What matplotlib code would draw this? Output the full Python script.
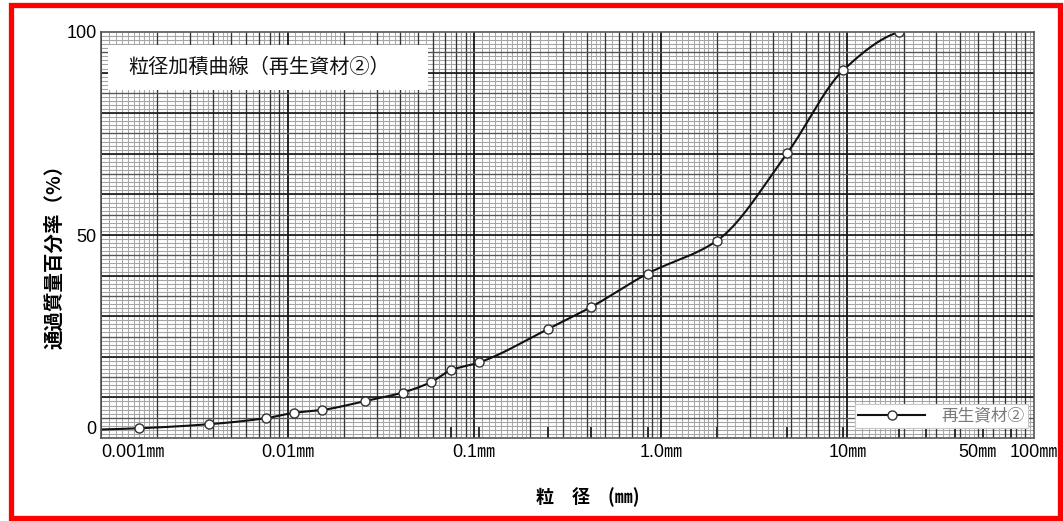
import numpy as np
import matplotlib.pyplot as plt
from matplotlib import font_manager
from matplotlib.patches import Rectangle

# 粒径 (mm) と通過質量百分率 (%)
grain_mm = [0.0016, 0.0038, 0.0077, 0.0108, 0.0153, 0.026, 0.0414, 0.0589,
            0.075, 0.106, 0.25, 0.425, 0.85, 2.0, 4.75, 9.5, 19.0]
passing = [2.4, 3.4, 4.9, 6.2, 6.9, 9.1, 11.2, 13.8,
           16.7, 18.6, 26.9, 32.3, 40.5, 48.6, 70.1, 90.6, 100.0]
# 曲線の左端 (0.001mm) の値
start_mm, start_pct = 0.001, 2.1

# ふるい目の位置 (下端の短い目盛)
sieve_mm = [0.075, 0.106, 0.25, 0.425, 0.85, 2.0, 4.75, 9.5,
            19.0, 26.5, 37.5, 53.0, 75.0]
x_ticks = [0.001, 0.01, 0.1, 1.0, 10, 50, 100]
x_labels = ['0.001㎜', '0.01㎜', '0.1㎜', '1.0㎜', '10㎜', '50㎜', '100㎜']
y_ticks = [0, 50, 100]
series_name = '再生資材②'
title = '粒径加積曲線（再生資材②）'

JP = 'Noto Sans CJK JP'
names = {f.name for f in font_manager.fontManager.ttflist}
narrow = 'Liberation Sans Narrow' if 'Liberation Sans Narrow' in names else 'Liberation Sans'
plt.rcParams['font.family'] = [JP, 'DejaVu Sans']


def pchip(xk, yk, xs):
    """単調な3次エルミート補間で滑らかな曲線を作る"""
    xk = np.asarray(xk, float)
    yk = np.asarray(yk, float)
    h = np.diff(xk)
    d = np.diff(yk) / h
    m = np.zeros_like(yk)
    for i in range(1, len(xk) - 1):
        if d[i - 1] * d[i] > 0:
            w1 = 2 * h[i] + h[i - 1]
            w2 = h[i] + 2 * h[i - 1]
            m[i] = (w1 + w2) / (w1 / d[i - 1] + w2 / d[i])

    def end_slope(h0, h1, d0, d1):
        s = ((2 * h0 + h1) * d0 - h0 * d1) / (h0 + h1)
        if np.sign(s) != np.sign(d0):
            s = 0.0
        elif np.sign(d0) != np.sign(d1) and abs(s) > abs(3 * d0):
            s = 3 * d0
        return s

    m[0] = end_slope(h[0], h[1], d[0], d[1])
    m[-1] = end_slope(h[-1], h[-2], d[-1], d[-2])

    idx = np.clip(np.searchsorted(xk, xs) - 1, 0, len(h) - 1)
    t = (xs - xk[idx]) / h[idx]
    h00 = 2 * t**3 - 3 * t**2 + 1
    h10 = t**3 - 2 * t**2 + t
    h01 = -2 * t**3 + 3 * t**2
    h11 = t**3 - t**2
    return (h00 * yk[idx] + h10 * h[idx] * m[idx]
            + h01 * yk[idx + 1] + h11 * h[idx] * m[idx + 1])


def draw_paper(ax):
    # 片対数方眼紙の罫線
    fine = np.concatenate([np.arange(1.1, 2.0, 0.1),
                           np.arange(2.25, 5.0, 0.25),
                           np.arange(5.5, 10.0, 0.5)])
    for n in range(-3, 2):
        base = 10.0 ** n
        ax.vlines(base * fine, 0, 100, colors='#aaaaaa', lw=0.75, zorder=1)
        ax.vlines(base * np.arange(2, 10), 0, 100, colors='#353535', lw=0.95, zorder=2)
        ax.vlines(base, 0, 100, colors='#151515', lw=1.3, zorder=2)
    ax.hlines(np.arange(1, 100), 0.001, 100, colors='#a5a5a5', lw=0.8, zorder=1)
    ax.hlines(np.arange(5, 100, 10), 0.001, 100, colors='#555555', lw=0.95, zorder=2)
    ax.hlines(np.arange(10, 100, 10), 0.001, 100, colors='#151515', lw=1.2, zorder=2)


fig = plt.figure(figsize=(10.64, 5.21), dpi=100)
ax = fig.add_axes([101 / 1064, 83 / 521, 933 / 1064, 406 / 521])
ax.set_xscale('log')
ax.set_xlim(0.001, 100)
ax.set_ylim(0, 100)

draw_paper(ax)

# 粒径加積曲線
knots_x = np.log10([start_mm] + grain_mm)
knots_y = [start_pct] + passing
xs = np.linspace(knots_x[0], knots_x[-1], 600)
ax.plot(10 ** xs, pchip(knots_x, knots_y, xs), color='#111111', lw=1.5, zorder=5)
ax.plot(grain_mm, passing, ls='none', marker='o', ms=6.5, mfc='white',
        mec='#333333', mew=1.0, zorder=6)

# 凡例用
ax.plot([], [], color='#111111', lw=1.5, marker='o', ms=6.5, mfc='white',
        mec='#333333', mew=1.0, label=series_name)
leg = ax.legend(loc='lower right', bbox_to_anchor=(0.9936, 0.0246), frameon=True,
                fancybox=False, framealpha=1, edgecolor='#c8c8c8',
                borderaxespad=0, handlelength=4.0, borderpad=0.2,
                handletextpad=1.0, prop={'family': [JP], 'size': 12})
leg.get_frame().set_linewidth(0.8)
leg.set_zorder(8)
for t in leg.get_texts():
    t.set_color('#7a7a7a')

# 表題
ax.add_patch(Rectangle((0.0075, 0.857), 0.343, 0.111, transform=ax.transAxes,
                       facecolor='white', edgecolor='none', zorder=7))
ax.text(0.029, 0.912, title, transform=ax.transAxes, fontsize=14.5,
        va='center', ha='left', color='#111111', zorder=8)

# 目盛
ax.set_xticks(x_ticks)
ax.set_xticklabels(x_labels, family=[narrow, JP], fontsize=13)
ax.get_xticklabels()[0].set_ha('left')
ax.set_xticks(sieve_mm, minor=True)
ax.set_xticklabels([''] * len(sieve_mm), minor=True)
ax.tick_params(axis='x', which='major', length=0, pad=4)
ax.tick_params(axis='x', which='minor', direction='in', length=8, width=1.2,
               color='#111111')
ax.set_yticks(y_ticks)
ax.set_yticklabels([str(v) for v in y_ticks], family=['Liberation Sans'], fontsize=13)
ax.get_yticklabels()[0].set_va('bottom')
ax.tick_params(axis='y', length=0, pad=3)
for s in ax.spines.values():
    s.set_color('#555555')
    s.set_linewidth(1.2)
    s.set_zorder(9)

# 軸名
fig.text(55 / 1064, 1 - 252 / 521, '通過質量百分率（%）', fontsize=14,
         fontweight='bold', rotation=90, ha='center', va='center')
fig.text(588 / 1064, 1 - 497 / 521, '粒　径　(㎜)', fontsize=13, fontweight='bold',
         ha='center', va='center')

# 外枠
fig.patches.append(Rectangle((11, 3), 1049, 513, transform=None, fill=False,
                             edgecolor='#ff0000', linewidth=3.8))

fig.savefig('out.png', dpi=100)
